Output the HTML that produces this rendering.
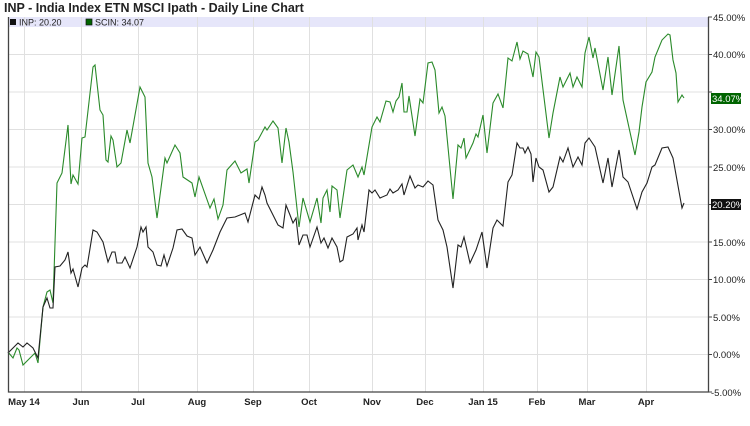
<!DOCTYPE html>
<html><head><style>body{margin:0;background:#fff}svg{display:block;font-family:"Liberation Sans",Arial,sans-serif}</style></head><body>
<svg width="750" height="426" xmlns="http://www.w3.org/2000/svg">
<rect width="750" height="426" fill="#fff"/>
<text x="4" y="12" font-size="12.5" font-weight="bold" fill="#222">INP - India Index ETN MSCI Ipath - Daily Line Chart</text>
<rect x="8" y="17" width="700" height="10" fill="#e6e6fa"/>
<g stroke="#e0e0e0" stroke-width="1">
<line x1="8" x2="708" y1="54.5" y2="54.5"/><line x1="8" x2="708" y1="92" y2="92"/><line x1="8" x2="708" y1="129.5" y2="129.5"/><line x1="8" x2="708" y1="167" y2="167"/><line x1="8" x2="708" y1="204.5" y2="204.5"/><line x1="8" x2="708" y1="242" y2="242"/><line x1="8" x2="708" y1="279.5" y2="279.5"/><line x1="8" x2="708" y1="317" y2="317"/><line x1="8" x2="708" y1="354.5" y2="354.5"/>
<line x1="24.5" x2="24.5" y1="17" y2="392"/><line x1="81.5" x2="81.5" y1="17" y2="392"/><line x1="138.5" x2="138.5" y1="17" y2="392"/><line x1="197.5" x2="197.5" y1="17" y2="392"/><line x1="253.5" x2="253.5" y1="17" y2="392"/><line x1="309.5" x2="309.5" y1="17" y2="392"/><line x1="372.5" x2="372.5" y1="17" y2="392"/><line x1="425.5" x2="425.5" y1="17" y2="392"/><line x1="483.5" x2="483.5" y1="17" y2="392"/><line x1="537.5" x2="537.5" y1="17" y2="392"/><line x1="587.5" x2="587.5" y1="17" y2="392"/><line x1="646.5" x2="646.5" y1="17" y2="392"/>
</g>
<g font-size="9" fill="#222">
<rect x="10" y="19" width="6" height="6" fill="#111"/><text x="19" y="25.5">INP: 20.20</text>
<rect x="86" y="19" width="6" height="6" fill="#006400" stroke="#111" stroke-width="0.7"/><text x="95" y="25.5">SCIN: 34.07</text>
</g>
<polyline fill="none" stroke="#2a8a2a" stroke-width="1.1" points="8,352 13,358 17,348 19,350 23,365 30,358 35,353 38,363 43,307 47,292 50,290 53,303 57,183 62,173 68,125 71,184 73,175 78,184 82,138 85,137 93,67 95,65 100,110 103,115 106,160 108,162 111,136 113,140 117,167 121,163 127,130 130,143 140,87 145,97 148,163 152,177 157,218 165,158 167,163 175,145 180,153 183,177 192,183 195,197 199,177 210,208 214,199 218,219 223,205 227,170 235,161 241,173 247,169 249,183 255,142 258,140 265,127 267,130 273,121 278,128 282,163 286,128 289,142 293,172 299,227 303,198 310,222 317,198 321,223 323,198 327,190 330,212 332,186 337,190 340,218 347,170 353,165 358,177 362,167 364,175 372,127 377,117 380,122 386,101 390,102 393,112 396,101 399,97 402,83 404,112 407,112 409,96 415,136 420,99 423,103 428,63 432,62 435,70 439,113 442,107 445,116 453,199 458,145 461,148 464,138 466,158 473,143 476,134 478,137 483,115 487,153 493,103 498,94 503,108 508,58 512,61 517,42 520,59 523,51 528,54 533,77 536,52 539,57 549,138 553,113 560,77 563,87 570,73 573,87 577,77 582,87 585,53 589,37 593,58 595,48 603,90 608,57 612,95 619,46 623,100 628,123 635,155 639,132 642,107 646,82 652,72 655,57 662,40 668,34 670,35 673,60 676,73 678,102 682,95 684,98"/>
<polyline fill="none" stroke="#222" stroke-width="1.1" points="8,353 18,343 23,347 27,343 33,348 38,358 43,307 47,298 50,308 53,308 55,267 60,266 65,260 68,252 71,273 73,269 78,287 82,268 85,265 87,267 93,230 97,232 103,242 108,262 112,252 115,252 117,263 122,263 125,257 130,268 137,247 141,227 143,232 146,227 148,247 153,252 157,265 161,266 164,255 167,266 173,248 177,230 182,229 187,236 192,238 195,255 200,247 207,263 213,250 220,232 227,218 235,217 240,215 245,213 248,222 255,195 259,199 262,187 265,195 267,203 272,213 278,225 283,228 286,205 290,215 293,223 296,218 299,245 303,235 307,235 310,247 317,227 321,243 324,238 328,248 332,238 337,247 340,262 343,260 347,237 353,234 357,228 358,240 362,225 364,232 369,190 372,193 375,190 380,198 387,195 390,189 393,193 398,190 402,184 404,195 410,176 415,188 418,185 423,187 428,181 433,185 438,220 443,230 447,247 453,288 458,245 461,247 464,237 470,263 476,250 482,232 487,268 493,228 497,220 503,226 508,182 512,175 517,143 520,148 523,148 525,153 528,147 531,154 533,182 536,158 539,167 543,170 549,192 553,187 560,157 563,162 568,148 573,167 578,157 582,165 585,143 589,138 595,147 603,183 608,158 612,187 619,150 623,177 628,182 637,209 642,192 647,183 652,167 655,165 662,148 668,147 673,158 682,208 684,203"/>
<g stroke="#444" stroke-width="1.3" fill="none"><polyline points="8.5,17 8.5,392 708.5,392 708.5,17"/></g>
<g stroke="#444" stroke-width="1">
<line x1="708" x2="712" y1="17" y2="17"/><line x1="708" x2="712" y1="54.5" y2="54.5"/><line x1="708" x2="712" y1="92" y2="92"/><line x1="708" x2="712" y1="129.5" y2="129.5"/><line x1="708" x2="712" y1="167" y2="167"/><line x1="708" x2="712" y1="204.5" y2="204.5"/><line x1="708" x2="712" y1="242" y2="242"/><line x1="708" x2="712" y1="279.5" y2="279.5"/><line x1="708" x2="712" y1="317" y2="317"/><line x1="708" x2="712" y1="354.5" y2="354.5"/><line x1="708" x2="712" y1="392" y2="392"/>
</g>
<g font-size="9.5" fill="#222">
<text x="713" y="21">45.00%</text><text x="713" y="58">40.00%</text><text x="713" y="133">30.00%</text><text x="713" y="171">25.00%</text><text x="713" y="246">15.00%</text><text x="713" y="283">10.00%</text><text x="713" y="321">5.00%</text><text x="713" y="358">0.00%</text><text x="711" y="396">-5.00%</text>
</g>
<rect x="711" y="93" width="30" height="11" fill="#006400"/><text x="712" y="102" font-size="9.5" fill="#fff">34.07%</text>
<rect x="711" y="199" width="30" height="11" fill="#111"/><text x="712" y="208" font-size="9.5" fill="#fff">20.20%</text>
<g font-size="9.5" font-weight="bold" fill="#222" text-anchor="middle">
<text x="24" y="405">May 14</text><text x="81" y="405">Jun</text><text x="138" y="405">Jul</text><text x="197" y="405">Aug</text><text x="253" y="405">Sep</text><text x="309" y="405">Oct</text><text x="372" y="405">Nov</text><text x="425" y="405">Dec</text><text x="483" y="405">Jan 15</text><text x="537" y="405">Feb</text><text x="587" y="405">Mar</text><text x="646" y="405">Apr</text>
</g>
</svg>
</body></html>
